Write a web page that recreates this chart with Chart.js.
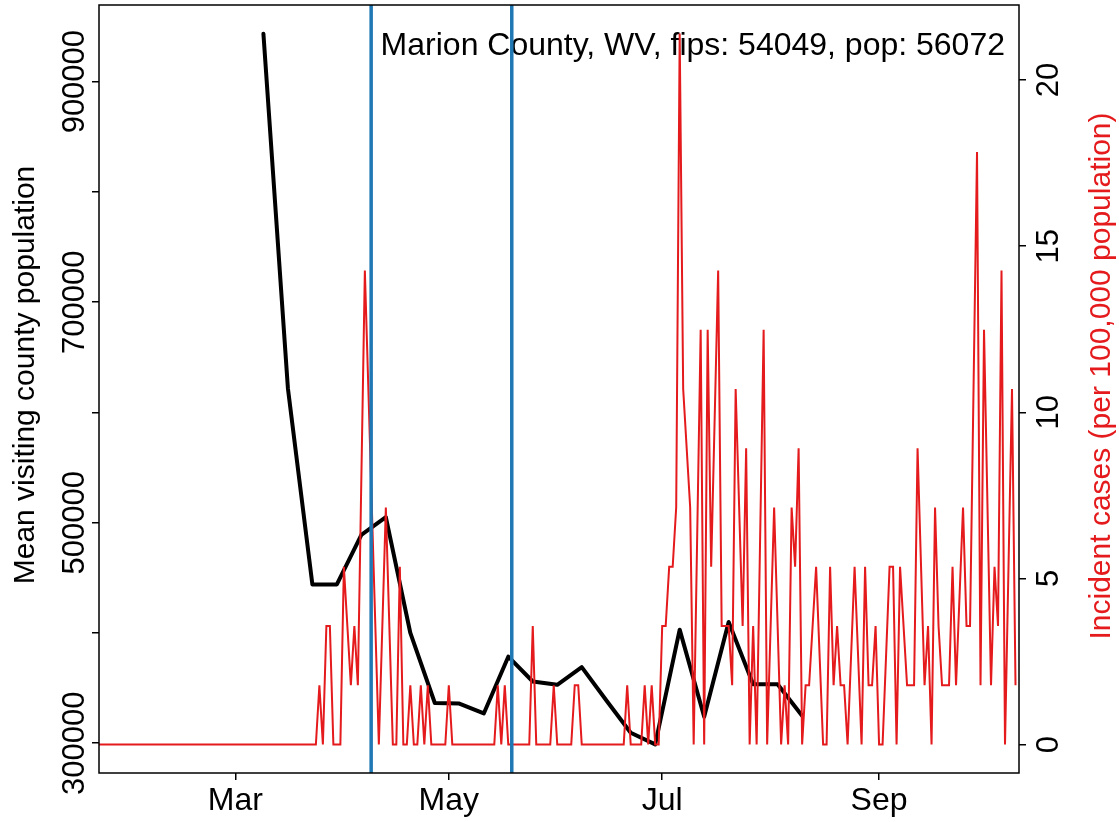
<!DOCTYPE html>
<html>
<head>
<meta charset="utf-8">
<script src="https://cdn.jsdelivr.net/npm/chart.js@4.4.0/dist/chart.umd.min.js"></script>
<style>
  html, body { margin: 0; padding: 0; background: #fff; }
  #wrap { width: 1119px; height: 822px; }
</style>
</head>
<body>
<div id="wrap"><canvas id="chart" width="1119" height="822"></canvas></div>
<script>
// x values are days counted from 1 March 2020
var monthDays = [0, 61, 122, 184];
var monthLabels = ['Mar', 'May', 'Jul', 'Sep'];

// weekly mean visiting county population (black line)
var visitDays = [8, 15, 22, 29, 36, 43, 50, 57, 64, 71, 78, 85, 92, 99, 106, 113, 120, 127, 134, 141, 148, 155, 162];
var visitPop = [943500, 622000, 444000, 444000, 489000, 505000, 400000, 336500, 336000, 327000, 378500, 356000,
                353000, 369000, 339000, 309500, 299000, 403000, 324000, 410000, 353500, 353500, 325000];

// daily new cases (red line), turned into incidence per 100,000 below
var caseDays = [-39, 23, 24, 25, 26, 27, 28, 30, 31, 33, 34, 35, 37, 41, 43, 45, 46, 47, 48, 49, 50, 51, 52, 53, 54, 55, 56, 60,
                61, 62, 74, 75, 76, 77, 78, 84, 85, 86, 90, 91, 92, 96, 97, 98, 99, 111, 112, 113, 116, 117, 118, 119, 120, 121,
                122, 123, 124, 125, 126, 127, 128, 130, 131, 133, 134, 135, 136, 138, 139, 141, 142, 143, 145, 146, 147, 148,
                149, 151, 152, 154, 156, 157, 158, 159, 160, 161, 162, 163, 164, 166, 168, 169, 170, 171, 172, 173, 174, 175,
                177, 179, 180, 181, 182, 183, 184, 185, 187, 188, 189, 190, 192, 193, 194, 195, 197, 198, 199, 200, 201, 202,
                203, 204, 205, 206, 208, 209, 210, 212, 213, 214, 216, 217, 218, 219, 220, 222, 223];
var caseCounts = [0, 0, 1, 0, 2, 2, 0, 0, 3, 1, 2, 1, 8, 0, 4, 0, 0, 3, 0, 0, 1, 0, 0, 1, 0, 1, 0, 0,
                  1, 0, 0, 1, 0, 1, 0, 0, 2, 0, 0, 1, 0, 0, 1, 1, 0, 0, 1, 0, 0, 1, 0, 1, 0, 0,
                  2, 2, 3, 3, 4, 12, 6, 4, 0, 7, 0, 7, 3, 8, 2, 2, 1, 6, 2, 5, 0, 2,
                  0, 7, 0, 4, 0, 1, 0, 4, 3, 5, 0, 1, 1, 3, 0, 0, 3, 1, 2, 1, 1, 0,
                  3, 0, 3, 1, 1, 2, 0, 0, 3, 3, 0, 3, 1, 1, 1, 5, 1, 2, 0, 4, 2, 1,
                  1, 1, 3, 1, 4, 2, 2, 10, 1, 7, 1, 3, 2, 8, 0, 6, 1];
var countyPop = 56072;

// dates of the two vertical markers
var markerDays = [38.8, 79];

var leftTicks = [300000, 400000, 500000, 600000, 700000, 800000, 900000];
var leftLabels = [300000, 500000, 700000, 900000];
var rightTicks = [0, 5, 10, 15, 20];

var titleText = 'Marion County, WV, fips: 54049, pop: 56072';
var leftTitle = 'Mean visiting county population';
var rightTitle = 'Incident cases (per 100,000 population)';

var RED = '#e41a1c';
var BLUE = '#1f77b4';
var FONT = '"Liberation Sans", Arial, Helvetica, sans-serif';

var yMin = 273000, yMax = 969500;
var y2Min = -0.856, y2Max = 22.257;

var visitData = visitDays.map(function (d, i) { return { x: d, y: visitPop[i] }; });
var caseData = caseDays.map(function (d, i) { return { x: d, y: caseCounts[i] * 100000 / countyPop }; });

var datasets = [
  { data: visitData, yAxisID: 'y', borderColor: '#000', borderWidth: 4, order: 2,
    borderJoinStyle: 'round', borderCapStyle: 'round' },
  { data: caseData, yAxisID: 'y2', borderColor: RED, borderWidth: 2, order: 1 }
];
markerDays.forEach(function (d) {
  datasets.push({ data: [{ x: d, y: y2Min }, { x: d, y: y2Max }], yAxisID: 'y2',
                  borderColor: BLUE, borderWidth: 3.5, order: 0 });
});

var rPlot = {
  id: 'rPlot',
  beforeDatasetsDraw: function (chart) {
    var ctx = chart.ctx;
    ctx.save();
    ctx.fillStyle = '#000';
    ctx.font = '32px ' + FONT;
    ctx.textAlign = 'right';
    ctx.textBaseline = 'alphabetic';
    ctx.fillText(titleText, 1005, 55);
    ctx.restore();
  },
  afterDraw: function (chart) {
    var ctx = chart.ctx, a = chart.chartArea;
    var ys = chart.scales.y, y2s = chart.scales.y2;
    ctx.save();
    ctx.strokeStyle = '#000';
    ctx.lineWidth = 1.5;
    ctx.strokeRect(a.left, a.top, a.right - a.left, a.bottom - a.top);

    ctx.font = '31px ' + FONT;
    ctx.textAlign = 'center';
    ctx.textBaseline = 'alphabetic';
    ctx.fillStyle = '#000';
    leftLabels.forEach(function (v) {
      ctx.save();
      ctx.translate(84, ys.getPixelForValue(v));
      ctx.rotate(-Math.PI / 2);
      ctx.fillText(String(v), 0, 0);
      ctx.restore();
    });
    rightTicks.forEach(function (v) {
      ctx.save();
      ctx.translate(1058, y2s.getPixelForValue(v));
      ctx.rotate(-Math.PI / 2);
      ctx.fillText(String(v), 0, 0);
      ctx.restore();
    });

    ctx.font = '30px ' + FONT;
    ctx.save();
    ctx.translate(34, 375);
    ctx.rotate(-Math.PI / 2);
    ctx.fillText(leftTitle, 0, 0);
    ctx.restore();

    ctx.save();
    ctx.fillStyle = RED;
    ctx.translate(1110, 376);
    ctx.rotate(-Math.PI / 2);
    ctx.fillText(rightTitle, 0, 0);
    ctx.restore();
    ctx.restore();
  }
};

var tickGrid = { drawOnChartArea: false, drawTicks: true, tickLength: 7, color: '#000', lineWidth: 1.5 };

new Chart(document.getElementById('chart').getContext('2d'), {
  type: 'line',
  data: { datasets: datasets },
  options: {
    responsive: false,
    animation: false,
    devicePixelRatio: 1,
    layout: { padding: { top: 5, left: 0, right: 0, bottom: 0 } },
    elements: { point: { radius: 0, hoverRadius: 0 }, line: { tension: 0, fill: false } },
    plugins: { legend: { display: false }, tooltip: { enabled: false } },
    scales: {
      x: {
        type: 'linear', min: -39, max: 224,
        afterBuildTicks: function (s) { s.ticks = monthDays.map(function (v) { return { value: v }; }); },
        afterFit: function (s) { s.height = 49; },
        ticks: {
          autoSkip: false, maxRotation: 0, minRotation: 0, padding: 2, color: '#000',
          font: { family: FONT, size: 32 },
          callback: function (v, i) { return monthLabels[i]; }
        },
        grid: tickGrid,
        border: { display: false }
      },
      y: {
        type: 'linear', position: 'left', min: yMin, max: yMax,
        afterBuildTicks: function (s) { s.ticks = leftTicks.map(function (v) { return { value: v }; }); },
        afterFit: function (s) { s.width = 99; },
        ticks: { display: false },
        grid: tickGrid,
        border: { display: false }
      },
      y2: {
        type: 'linear', position: 'right', min: y2Min, max: y2Max,
        afterBuildTicks: function (s) { s.ticks = rightTicks.map(function (v) { return { value: v }; }); },
        afterFit: function (s) { s.width = 100; },
        ticks: { display: false },
        grid: tickGrid,
        border: { display: false }
      }
    }
  },
  plugins: [rPlot]
});
</script>
</body>
</html>
